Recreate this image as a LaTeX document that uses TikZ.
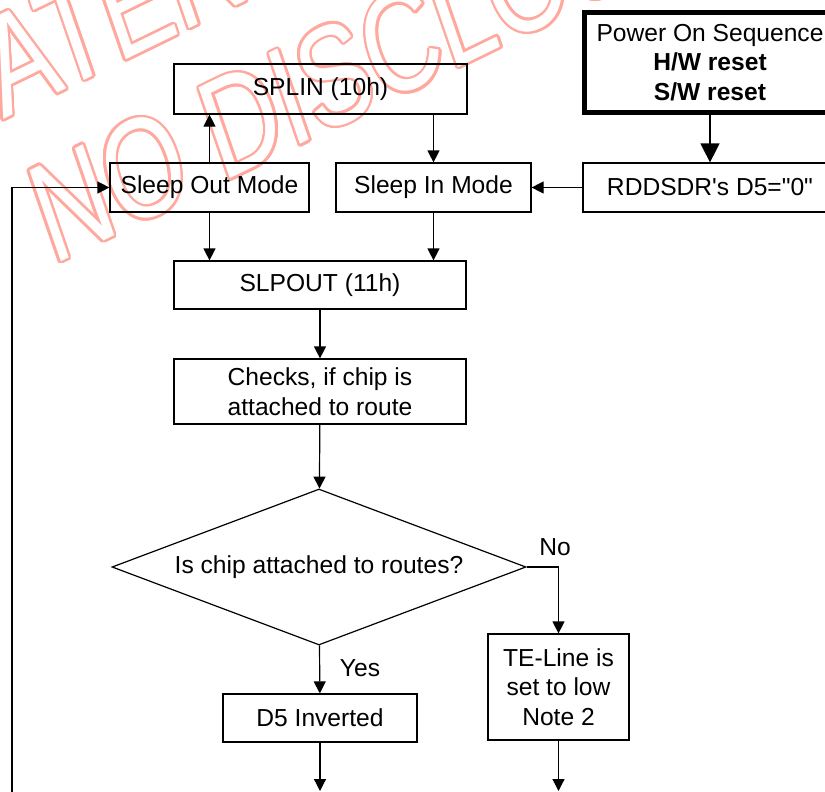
\documentclass[tikz,border=0pt]{standalone}
\usepackage{fontspec}
\setmainfont{Liberation Sans}[Ligatures=TeXOff]
\usepackage{tikz}
\usetikzlibrary{shapes.geometric,arrows.meta}

\definecolor{wmpink}{RGB}{255,168,158}

\tikzset{
  box/.style={draw, line width=1.2pt, inner sep=0pt, align=center,
    font=\fontsize{24.6}{29.5}\selectfont},
  lbl/.style={inner sep=0pt, font=\fontsize{24.6}{29.5}\selectfont},
  arr/.style={line width=1.2pt, -{Triangle[length=12pt,width=12pt]}},
  bigarr/.style={line width=1.2pt, -{Triangle[length=19pt,width=19pt]}},
  wmtext/.style={anchor=base west, inner sep=0pt, yscale=1.19, rotate=22.3, xscale=0.86,
    font=\fontsize{120}{120}\selectfont}
}

\begin{document}
\begin{tikzpicture}[x=1pt,y=-1pt]
\useasboundingbox (0,0) rectangle (825,792);
\clip (0,0) rectangle (825,792);

% Watermark (outlined letters)
\foreach \a in {0,20,...,340} {
  \node[shift={(\a:2.5pt)}, wmtext, text=wmpink] (wma-\a) at (-76.5,158.6) {MATERIAL};
  \node[shift={(\a:2.5pt)}, wmtext, text=wmpink] (wmb-\a) at (53,265.5) {NO DISCLOSURE};
}
\node[wmtext, text=white] (wma) at (-76.5,158.6) {MATERIAL};
\node[wmtext, text=white] (wmb) at (53,265.5) {NO DISCLOSURE};

% Boxes
\node[box, line width=4.5pt, minimum width=251pt, minimum height=100pt] (power) at (710,62.5)
  {Power On Sequence\\\textbf{H/W reset}\\\textbf{S/W reset}};
\node[box, minimum width=293pt, minimum height=50pt] (splin) at (320.5,89) {SPLIN (10h)};
\node[box, minimum width=199pt, minimum height=49pt] (sleepout) at (209.5,187.5) {Sleep Out Mode};
\node[box, minimum width=195pt, minimum height=49pt] (sleepin) at (433.5,187.5) {Sleep In Mode};
\node[box, minimum width=254pt, minimum height=49pt] (rddsdr) at (710,187.5) {RDDSDR's D5="0"};
\node[box, minimum width=292pt, minimum height=48pt] (slpout) at (320,285) {SLPOUT (11h)};
\node[box, minimum width=292pt, minimum height=65pt] (checks) at (320,391.5) {Checks, if chip is\\attached to route};
\node[box, diamond, aspect=2.654, minimum width=414pt, minimum height=156pt] (chipq) at (319,567) {Is chip attached to routes?};
\node[box, minimum width=194pt, minimum height=48pt] (d5inv) at (320,718) {D5 Inverted};
\node[box, minimum width=141pt, minimum height=106pt] (teline) at (558.5,687) {TE-Line is\\set to low\\Note 2};

% Labels
\node[lbl] (yes) at (360,668) {Yes};
\node[lbl] (no) at (555,547) {No};

% Loose ends
\coordinate (d5end) at (320,791);
\coordinate (teend) at (558.5,791);
\coordinate (loopin) at (12,800);

% Connectors
\draw[arr] (sleepout.north) -- (sleepout.north |- splin.south);
\draw[arr] (splin.south -| sleepin.north) -- (sleepin.north);
\draw[bigarr] (power.south) -- (rddsdr.north);
\draw[arr] (rddsdr.west) -- (sleepin.east);
\draw[arr] (sleepout.south) -- (sleepout.south |- slpout.north);
\draw[arr] (sleepin.south) -- (sleepin.south |- slpout.north);
\draw[arr] (slpout) -- (checks);
\draw[arr] (checks) -- (chipq);
\draw[arr] (chipq) -- (d5inv);
\draw[arr] (chipq.east) -| (teline.north);
\draw[arr] (d5inv) -- (d5end);
\draw[arr] (teline) -- (teend);
\draw[arr] (loopin) |- (sleepout.west);

\end{tikzpicture}
\end{document}
